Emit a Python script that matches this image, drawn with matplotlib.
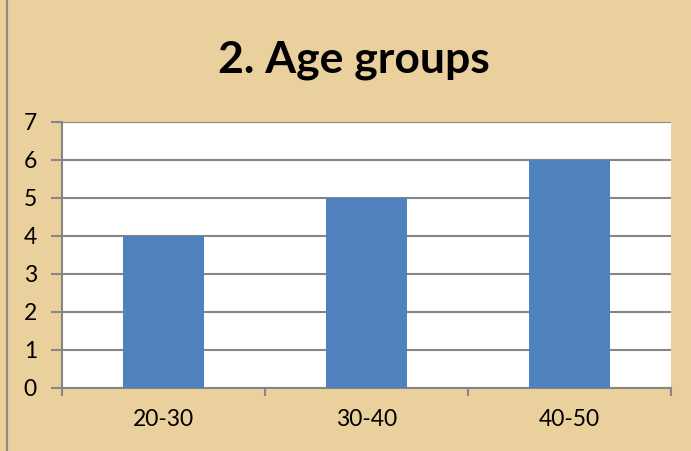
import matplotlib
matplotlib.use("Agg")
import matplotlib.pyplot as plt
from matplotlib.lines import Line2D

# dados do grafico
grupos = ['20-30', '30-40', '40-50']
valores = [4, 5, 6]
yticks = [0, 1, 2, 3, 4, 5, 6, 7]

plt.rcParams['font.family'] = ['Lato', 'DejaVu Sans']

fig = plt.figure(figsize=(6.91, 4.51), dpi=100)
fig.patch.set_facecolor('#EAD09C')

# moldura cinzenta do lado esquerdo
fig.add_artist(Line2D([7 / 691, 7 / 691], [0, 1], color='#8C8C8C', lw=1.5,
                      transform=fig.transFigure))

ax = fig.add_axes([62 / 691, 63 / 451, 609 / 691, 266 / 451])
ax.set_facecolor('white')

x = list(range(len(grupos)))
ax.bar(x, valores, width=0.4, color='#4F81BD', zorder=3)

ax.set_xlim(-0.5, len(grupos) - 0.5)
ax.set_ylim(0, 7)
ax.set_yticks(yticks)
ax.set_yticklabels([str(v) for v in yticks], fontsize=16.5)
ax.yaxis.grid(True, color='#868686', lw=1.5, zorder=1)

ax.set_xticks(x)
ax.set_xticklabels(grupos, fontsize=16.5)
ax.set_xticks([-0.5, 0.5, 1.5, 2.5], minor=True)
ax.tick_params(axis='x', which='major', length=0, pad=15)
ax.tick_params(axis='x', which='minor', length=6, width=1.5, color='#868686')
ax.tick_params(axis='y', length=8, width=1.5, color='#868686', pad=10)

for lado in ['top', 'right']:
    ax.spines[lado].set_visible(False)
for lado in ['left', 'bottom']:
    ax.spines[lado].set_color('#868686')
    ax.spines[lado].set_linewidth(1.5)

fig.text(0.512, 0.84, '2. Age groups', ha='center', va='baseline',
         fontsize=32, fontweight='bold')

fig.savefig('out.png', dpi=100, facecolor=fig.get_facecolor())
